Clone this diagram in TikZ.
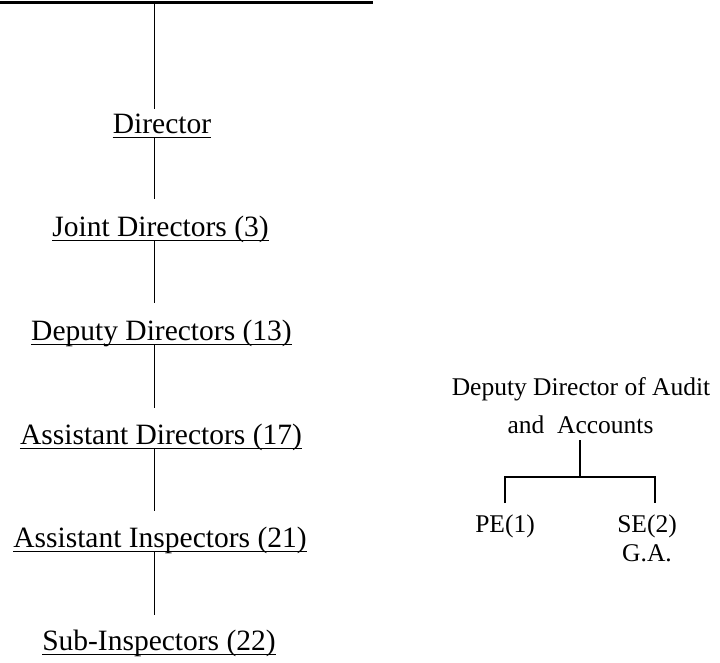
\documentclass[tikz,border=0pt]{standalone}
\usepackage{fontspec}
\setmainfont{Liberation Serif}
\begin{document}
\begin{tikzpicture}[x=1pt,y=-1pt,
  rank/.style={inner sep=0pt,anchor=base,font=\fontsize{29.5}{32}\selectfont},
  small/.style={inner sep=0pt,anchor=base,font=\fontsize{25.5}{28}\selectfont},
  conn/.style={line width=1.9pt,line cap=butt},
  uline/.style={line width=1.3pt}]
\useasboundingbox (0,0) rectangle (720,662);
% top bar
\coordinate (tl) at (0,2.5);
\coordinate (tr) at (373,2.5);
\draw[line width=2.4pt] (tl) -- (tr);
\coordinate (top) at (154.5,3);
% ranks
\node[rank] (dir) at (162,133) {Director};
\node[rank] (jd)  at (160.5,236) {Joint Directors (3)};
\node[rank] (dd)  at (161.5,340) {Deputy Directors (13)};
\node[rank] (ad)  at (161,444) {Assistant Directors (17)};
\node[rank] (ai)  at (160,547) {Assistant Inspectors (21)};
\node[rank] (si)  at (159,650) {Sub-Inspectors (22)};
% underlines
\foreach \n in {dir,jd,dd,ad,ai,si}{
  \draw[uline] ([yshift=-4.5pt]\n.base west) -- ([yshift=-4.5pt]\n.base east);
}
% vertical connectors
\draw[conn] (top) -- ([yshift=4pt]top |- dir.north);
\draw[conn] ([yshift=-4.5pt]top |- dir.base) -- ([yshift=16pt]top |- jd.north);
\draw[conn] ([yshift=-4.5pt]top |- jd.base) -- ([yshift=16pt]top |- dd.north);
\draw[conn] ([yshift=-4.5pt]top |- dd.base) -- ([yshift=15pt]top |- ad.north);
\draw[conn] ([yshift=-4.5pt]top |- ad.base) -- ([yshift=15pt]top |- ai.north);
\draw[conn] ([yshift=-4.5pt]top |- ai.base) -- ([yshift=14pt]top |- si.north);
% right part
\node[small] (dda) at (581,395) {Deputy Director of Audit};
\node[small] (acc) at (580.5,433) {and~ Accounts};
\node[small] (pe) at (505,532) {PE(1)};
\node[small] (se) at (647,532) {SE(2)};
\node[small] (ga) at (647,561) {G.A.};
\coordinate (j) at (580,477);
\coordinate (pl) at (505,503);
\coordinate (sr) at (655,503);
\draw[conn] ([yshift=-7pt]j |- acc.base) -- (j);
\draw[conn] (pl) |- (j) -| (sr);
\end{tikzpicture}
\end{document}
